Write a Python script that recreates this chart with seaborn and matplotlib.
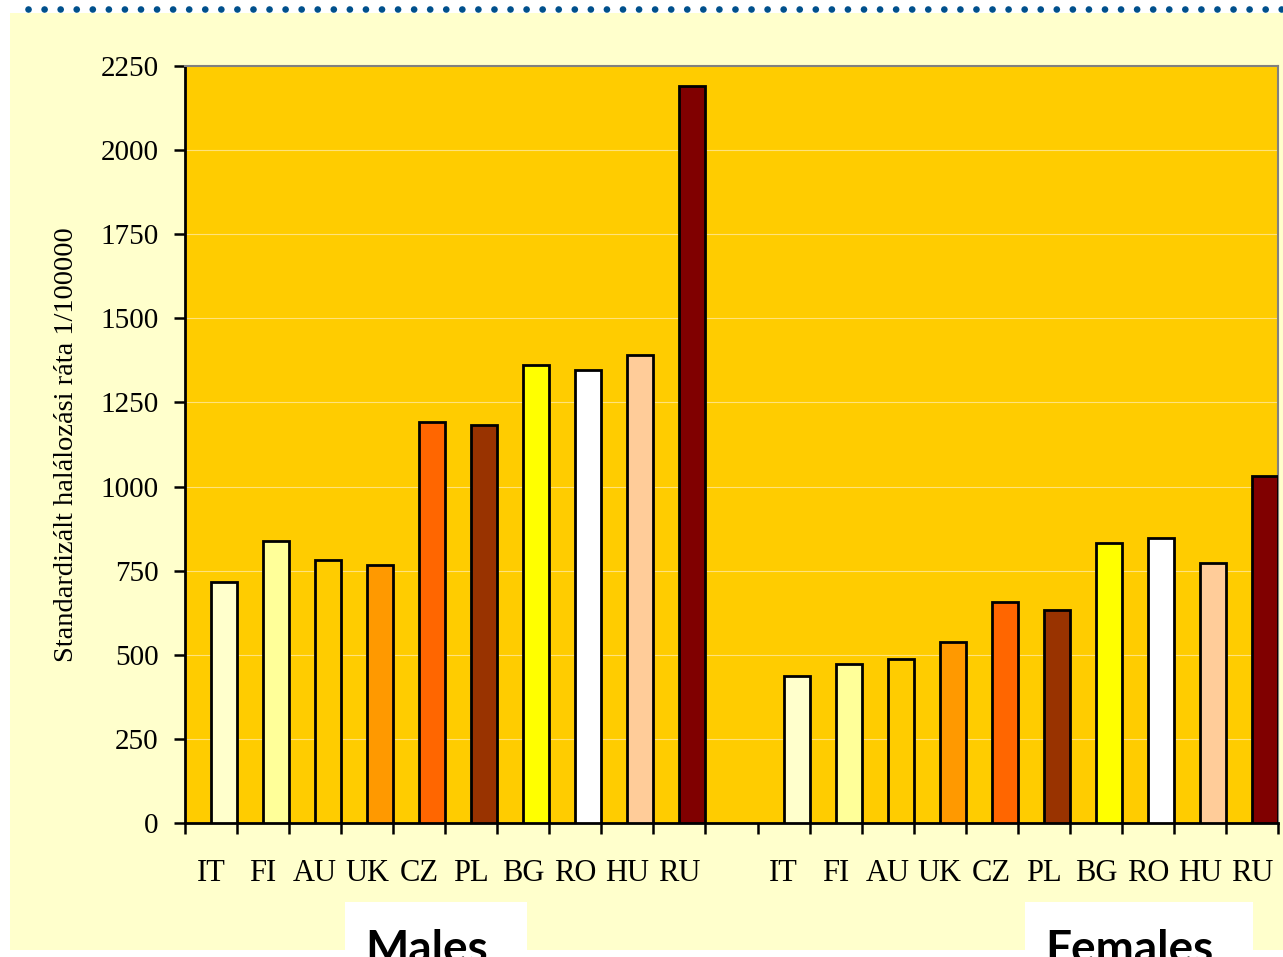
"""
Standardised mortality rate by country, males vs females (bar chart).
"""

import matplotlib

matplotlib.use("Agg")

import matplotlib.pyplot as plt
import numpy as np
import pandas as pd
import seaborn as sns
from matplotlib.lines import Line2D
from matplotlib.patches import Rectangle

countries = ["IT", "FI", "AU", "UK", "CZ", "PL", "BG", "RO", "HU", "RU"]
male_rates = [716, 838, 782, 767, 1192, 1183, 1361, 1347, 1391, 2191]
female_rates = [437, 473, 487, 538, 657, 633, 832, 847, 773, 1031]
country_colors = {
    "IT": "#FFFFCC",
    "FI": "#FFFF99",
    "AU": "#FFCC00",
    "UK": "#FF9900",
    "CZ": "#FF6600",
    "PL": "#993300",
    "BG": "#FFFF00",
    "RO": "#FFFFFF",
    "HU": "#FFCC99",
    "RU": "#800000",
}
group_labels = ["Males", "Females"]
y_label = "Standardizált halálozási ráta 1/100000"
y_ticks = list(range(0, 2251, 250))

# slot index of each bar: males 0-9, empty slot 10, females 11-20
n = len(countries)
slots = np.r_[np.arange(n), np.arange(n) + n + 1]
df = pd.DataFrame({
    "slot": slots,
    "country": countries * 2,
    "rate": male_rates + female_rates,
})
# bars sit in the right half of each category slot
df["xpos"] = df["slot"] + 0.25

sns.set_style("white")
plt.rcParams["font.family"] = ["Liberation Serif", "DejaVu Serif"]
plt.rcParams["text.color"] = "black"
plt.rcParams["xtick.color"] = "black"
plt.rcParams["ytick.color"] = "black"
plt.rcParams["axes.labelcolor"] = "black"

fig = plt.figure(figsize=(12.83, 9.57), dpi=100, facecolor="white")
W, H = 1283, 957

# pale yellow slide background + dotted rule on top
fig.patches.append(Rectangle((10 / W, 1 - 950 / H), 1 - 10 / W, (950 - 13) / H,
                             transform=fig.transFigure, facecolor="#FFFFCC",
                             edgecolor="none", zorder=-2))
fig.lines.append(Line2D([28 / W, 1.0], [1 - 9 / H] * 2, transform=fig.transFigure,
                        color="#00508C", linewidth=4.8, linestyle=(0, (0.01, 2.4)),
                        dash_capstyle="round"))

ax = fig.add_axes([185 / W, 134 / H, (1278 - 185) / W, (823 - 66) / H])
ax.set_facecolor("#FFCC00")

sns.barplot(
    data=df, x="xpos", y="rate", hue="country", palette=country_colors,
    native_scale=True, dodge=False, width=0.5, errorbar=None, saturation=1,
    edgecolor="black", linewidth=2.0, legend=False, ax=ax, zorder=3,
)

ax.set_xlim(-0.5, 2 * n + 0.5)
ax.set_ylim(0, 2250)
ax.set_yticks(y_ticks)
ax.set_yticklabels([str(t) for t in y_ticks], fontsize=21)
ax.yaxis.grid(True, color="#FFE27A", linewidth=0.8, zorder=0)
ax.set_axisbelow(True)

ax.set_xticks(slots)
ax.set_xticklabels(countries * 2, fontsize=22)
ax.set_xticks(np.arange(-0.5, 2 * n + 1), minor=True)
ax.tick_params(axis="x", which="major", length=0, pad=26)
ax.tick_params(axis="x", which="minor", length=8, width=1.8, color="black",
               direction="out", bottom=True)
ax.tick_params(axis="y", length=8, width=1.8, color="black", direction="out",
               pad=11, left=True)
ax.set_xlabel("")
ax.set_ylabel(y_label, fontsize=20.5)
ax.yaxis.set_label_coords(-0.097, 0.5)

for side in ("left", "bottom"):
    ax.spines[side].set_color("black")
    ax.spines[side].set_linewidth(2)
for side in ("top", "right"):
    ax.spines[side].set_visible(True)
    ax.spines[side].set_color("#808080")
    ax.spines[side].set_linewidth(1.5)

# white label boxes under each group (text runs off the bottom edge as in the slide)
boxes = [(345, 527), (1025, 1253)]
for label, (x0, x1) in zip(group_labels, boxes):
    fig.patches.append(Rectangle((x0 / W, 0), (x1 - x0) / W, (957 - 902) / H,
                                 transform=fig.transFigure, facecolor="white",
                                 edgecolor="none", zorder=-1))
    fig.text((x0 + 20) / W, -6 / H, label, fontsize=33, fontweight="bold",
             family=["Lato", "DejaVu Sans"], color="black", ha="left", va="baseline")

fig.savefig("out.png", dpi=100, facecolor=fig.get_facecolor())
